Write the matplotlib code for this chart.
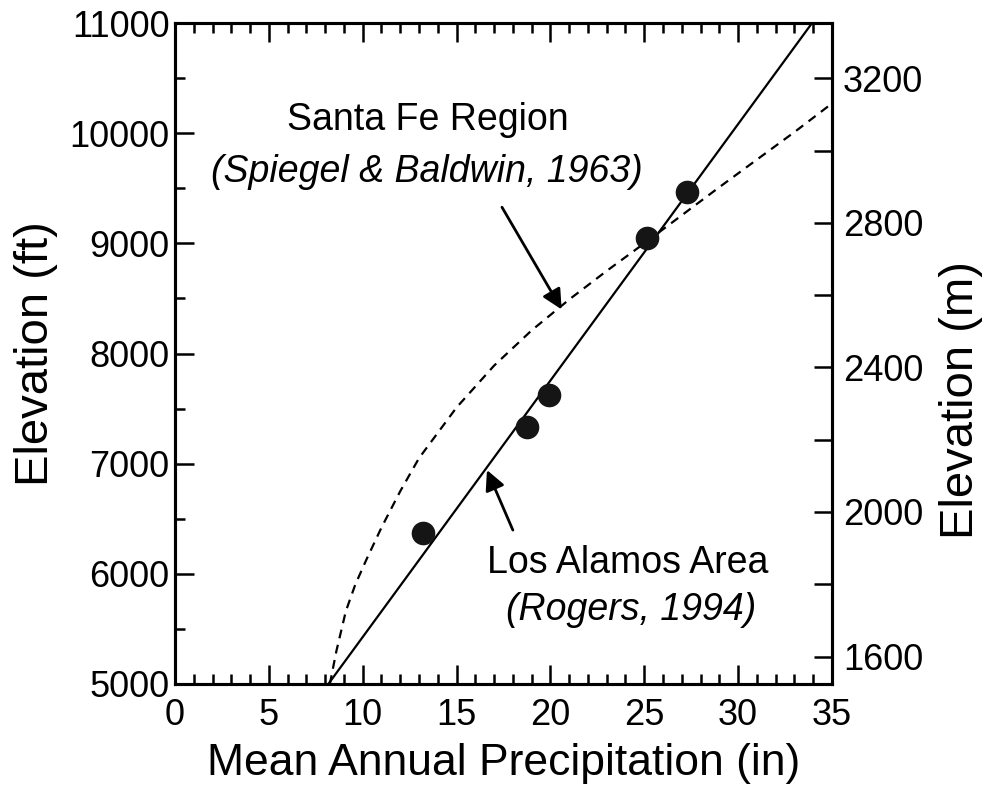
import numpy as np
import matplotlib.pyplot as plt
from matplotlib.ticker import MultipleLocator

# Helvetica-like lettering
plt.rcParams['font.family'] = ['Liberation Sans', 'DejaVu Sans']

# measured stations (precipitation in inches, elevation in feet)
station_precip = [13.2, 18.75, 19.9, 25.15, 27.3]
station_elev = [6370, 7330, 7620, 9050, 9465]

# Los Alamos Area regression line (Rogers, 1994)
la_precip = [8.17, 33.94]
la_elev = [5000, 11000]

# Santa Fe Region curve (Spiegel & Baldwin, 1963)
sf_precip = [8.25, 8.6, 9.1, 9.6, 10.2, 11.0, 12.0, 13.0, 15.0, 17.0, 19.0, 21.0, 23.0, 25.0, 27.0, 29.0, 31.0, 33.0, 35.0]
sf_elev = [5000, 5300, 5660, 5900, 6130, 6420, 6750, 7050, 7510, 7890, 8210, 8490, 8750, 9000, 9255, 9510, 9760, 10010, 10270]

FT_TO_M = 0.3048

fig = plt.figure(figsize=(9.96, 7.86), dpi=100)
ax = fig.add_axes([0.1757, 0.1298, 0.6596, 0.8409])

ax.plot(la_precip, la_elev, color='k', lw=1.6)
ax.plot(sf_precip, sf_elev, color='k', lw=1.6, ls=(0, (4, 3)))
ax.plot(station_precip, station_elev, 'o', color='#151515', ms=16, zorder=5)

ax.set_xlim(0, 35)
ax.set_ylim(5000, 11000)
ax.xaxis.set_major_locator(MultipleLocator(5))
ax.xaxis.set_minor_locator(MultipleLocator(1))
ax.yaxis.set_major_locator(MultipleLocator(1000))
ax.yaxis.set_minor_locator(MultipleLocator(500))

ax.tick_params(axis='x', which='both', direction='in', top=True, bottom=True, labelsize=26, pad=10)
ax.tick_params(axis='y', which='both', direction='in', left=True, right=False, labelsize=26, pad=4)
ax.tick_params(which='major', length=14, width=1.8)
ax.tick_params(which='minor', length=7, width=1.8)

ax.set_xlabel('Mean Annual Precipitation (in)', fontsize=32, labelpad=7)
ax.set_ylabel('Elevation (ft)', fontsize=34, labelpad=8)

for s in ax.spines.values():
    s.set_linewidth(2.2)

# meters on the right
ax2 = ax.twinx()
ax2.set_ylim(5000 * FT_TO_M, 11000 * FT_TO_M)
ax2.yaxis.set_major_locator(MultipleLocator(400))
ax2.yaxis.set_minor_locator(MultipleLocator(200))
ax2.tick_params(axis='y', which='both', direction='in', length=13, width=1.8, labelsize=26, pad=8)
ax2.set_ylabel('Elevation (m)', fontsize=34)
ax2.yaxis.set_label_coords(1.163, 0.43)
for s in ax2.spines.values():
    s.set_linewidth(2.2)

# annotations
arrow = dict(arrowstyle='-|>', color='k', lw=2, mutation_scale=30, shrinkA=0, shrinkB=0)
ax.annotate('', xy=(20.6, 8400), xytext=(17.42, 9328), arrowprops=arrow)
ax.annotate('', xy=(16.62, 6942), xytext=(18.0, 6397), arrowprops=arrow)

ax.text(13.45, 10118, 'Santa Fe Region', fontsize=27, ha='center', va='center')
ax.text(13.4, 9646, '(Spiegel & Baldwin, 1963)', fontsize=27, style='italic', ha='center', va='center')
ax.text(24.1, 6098, 'Los Alamos Area', fontsize=27, ha='center', va='center')
ax.text(24.3, 5672, '(Rogers, 1994)', fontsize=27, style='italic', ha='center', va='center')

fig.savefig('out.png', dpi=100)
